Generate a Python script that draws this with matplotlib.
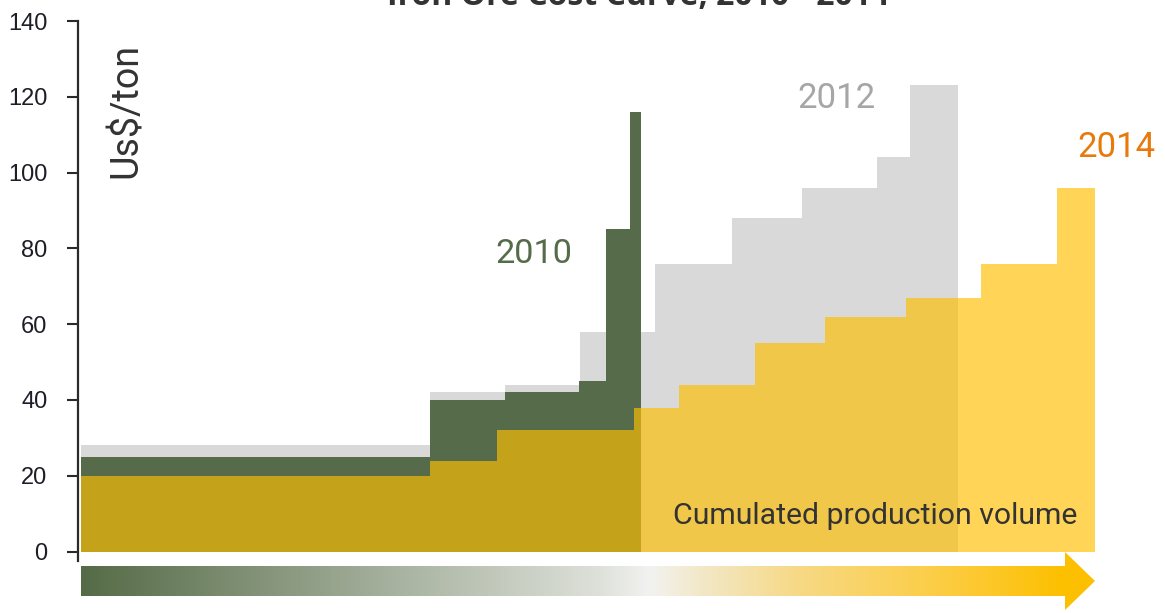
import numpy as np
import matplotlib
matplotlib.use("Agg")
import matplotlib.pyplot as plt
from matplotlib import font_manager
from matplotlib.font_manager import FontProperties
from matplotlib.colors import LinearSegmentedColormap
from matplotlib.path import Path
from matplotlib.patches import PathPatch

# ---------------- data ----------------
# cumulative production volume blocks (arbitrary volume units) and cash cost (US$/ton)
width_2010 = [349, 75, 74, 27, 24, 11]
cost_2010 = [25, 40, 42, 45, 85, 116]

width_2012 = [349, 75, 75, 75, 77, 70, 75, 33, 48]
cost_2012 = [28, 42, 44, 58, 76, 88, 96, 104, 123]

width_2014 = [349, 67, 137, 45, 76, 70, 81, 75, 76, 38]
cost_2014 = [20, 24, 32, 38, 44, 55, 62, 67, 76, 96]

y_ticks = [0, 20, 40, 60, 80, 100, 120, 140]
year_labels = ["2010", "2012", "2014"]

title = "Iron Ore Cost Curve, 2010 - 2014"
y_label = "Us$/ton"
x_label = "Cumulated production volume"

# ---------------- style ----------------
C_GRAY = "#D9D9D9"
C_GREEN = "#556B4A"
C_YELLOW = "#FFBF00"
YELLOW_ALPHA = 0.66
C_TEXT = "#333333"
C_2012 = "#A6A6A6"
C_2014 = "#E8790C"


def pick(cands):
    for c in cands:
        try:
            font_manager.findfont(FontProperties(family=c), fallback_to_default=False)
            return c
        except Exception:
            pass
    return "DejaVu Sans"


F_LABEL = pick(["Liberation Sans Narrow", "Roboto", "Open Sans"])
F_TITLE = pick(["Open Sans", "Lato", "DejaVu Sans"])
F_TICK = pick(["Liberation Sans", "Arial", "DejaVu Sans"])

W, H = 1165, 613
fig = plt.figure(figsize=(W / 100, H / 100), dpi=100)

# main axes: spine at px x=78, value 0 at px y=551.5, 140 at px y=21
px_per_unit = (551.5 - 21) / 140.0
y_low = -2.5
bottom_px = 551.5 - y_low * px_per_unit
ax = fig.add_axes([78 / W, (H - bottom_px) / H, (1100 - 78) / W, (bottom_px - 21) / H])
ax.set_ylim(y_low, 140)
ax.set_xlim(-3, 1100 - 81)


def steps(widths, costs, color, z, alpha=1.0, **kw):
    w = np.asarray(widths, float)
    left = np.concatenate([[0], np.cumsum(w)[:-1]])
    ax.bar(left, costs, width=w, align="edge", color=color, alpha=alpha,
           linewidth=0, zorder=z, **kw)


steps(width_2012, cost_2012, C_GRAY, 1)
steps(width_2010, cost_2010, C_GREEN, 2)
steps(width_2014, cost_2014, C_YELLOW, 3, alpha=YELLOW_ALPHA)

for s in ["top", "right", "bottom"]:
    ax.spines[s].set_visible(False)
ax.spines["left"].set_linewidth(1.6)
ax.spines["left"].set_color("#2a2a2a")
ax.set_xticks([])
ax.set_yticks(y_ticks)
ax.set_yticklabels([str(v) for v in y_ticks], fontfamily=F_TICK, fontsize=17, color="#1e1e28")
ax.tick_params(axis="y", which="major", direction="out", length=8, width=1.5,
               color="#2a2a2a", pad=14)
ax.set_yticks([0], minor=True)
ax.tick_params(axis="y", which="minor", direction="in", length=6.5, width=1.5, color="#2a2a2a")
ax.patch.set_alpha(0)

# overlay axes in pixel coordinates for annotations
ov = fig.add_axes([0, 0, 1, 1])
ov.set_axis_off()
ov.patch.set_alpha(0)

# gradient arrow
stops = [(0.0, "#556B47"), (0.216, "#8E9C84"), (0.512, "#DEE1DA"), (0.561, "#F2F2F0"),
         (0.62, "#F3E7C2"), (0.709, "#F7D985"), (0.857, "#FCCC40"), (0.97, "#FDC000"),
         (1.0, "#FDC000")]
cmap = LinearSegmentedColormap.from_list("arrow", stops)
grad = np.linspace(0, 1, 512)[None, :]
im = ov.imshow(grad, cmap=cmap, extent=(81, 1095, 612, 550), aspect="auto",
               interpolation="bilinear", zorder=1)
verts = [(81, 566), (1065, 566), (1065, 552), (1095, 581), (1065, 610), (1065, 596),
         (81, 596), (81, 566)]
codes = [Path.MOVETO] + [Path.LINETO] * 6 + [Path.CLOSEPOLY]
patch = PathPatch(Path(verts, codes), facecolor="none", edgecolor="none")
ov.add_patch(patch)
im.set_clip_path(patch)
ov.set_xlim(0, W)
ov.set_ylim(H, 0)

texts = []
t_title = ov.text(638, 5, title, ha="center", va="baseline", fontfamily=F_TITLE,
                  fontweight="bold", fontsize=24, color=C_TEXT)
texts.append((t_title, 503, "w"))
t10 = ov.text(533.5, 263, year_labels[0], ha="center", va="baseline", fontfamily=F_LABEL,
              fontsize=30, color=C_GREEN)
texts.append((t10, 77, "w"))
t12 = ov.text(836, 108, year_labels[1], ha="center", va="baseline", fontfamily=F_LABEL,
              fontsize=30, color=C_2012)
texts.append((t12, 78, "w"))
t14 = ov.text(1116, 157, year_labels[2], ha="center", va="baseline", fontfamily=F_LABEL,
              fontsize=30, color=C_2014)
texts.append((t14, 78, "w"))
tx = ov.text(875, 524, x_label, ha="center", va="baseline", fontfamily=F_LABEL,
             fontsize=22, color=C_TEXT, zorder=5)
texts.append((tx, 406, "w"))
ty = ov.text(126, 110, y_label, ha="center", va="center", rotation=90, fontfamily=F_LABEL,
             fontsize=26, color=C_TEXT)
texts.append((ty, 135, "h"))

for _ in range(2):
    fig.canvas.draw()
    r = fig.canvas.get_renderer()
    for t, target, dim in texts:
        bb = t.get_window_extent(r)
        cur = bb.width if dim == "w" else bb.height
        if cur > 0:
            t.set_fontsize(t.get_fontsize() * target / cur)

fig.savefig("out.png", dpi=100)
